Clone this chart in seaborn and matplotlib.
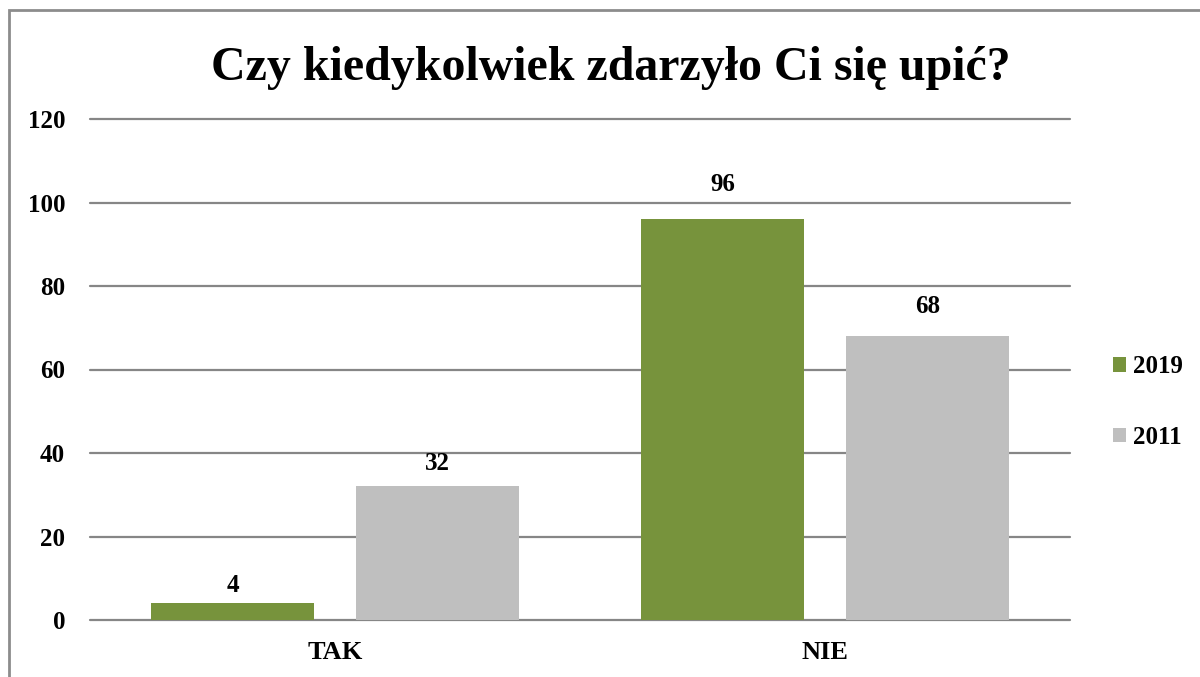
import matplotlib
matplotlib.use("Agg")
import matplotlib.pyplot as plt
import seaborn as sns
import pandas as pd
from matplotlib.patches import Rectangle

categories = ["TAK", "NIE"]
years = ["2019", "2011"]
values_2019 = [4, 96]
values_2011 = [32, 68]
yticks = [0, 20, 40, 60, 80, 100, 120]
title = "Czy kiedykolwiek zdarzyło Ci się upić?"

df = pd.DataFrame({
    "cat": categories * 2,
    "year": [years[0]] * 2 + [years[1]] * 2,
    "val": values_2019 + values_2011,
})

sns.set_theme(style="white")
plt.rcParams['font.family'] = ['Liberation Serif', 'DejaVu Serif']
plt.rcParams['font.weight'] = 'bold'
for k in ["text.color", "axes.labelcolor", "xtick.color", "ytick.color"]:
    plt.rcParams[k] = "black"

fig = plt.figure(figsize=(12, 6.77), dpi=100)
ax = fig.add_axes([90/1200, 1-620/677, 980/1200, 501/677])
palette = {"2019": "#77933C", "2011": "#BFBFBF"}
sns.barplot(data=df, x="cat", y="val", hue="year", order=categories,
            hue_order=years, palette=palette, width=0.837, gap=0.204,
            saturation=1, ax=ax, legend=True, zorder=3, linewidth=0)

ax.set_xlim(-0.5, 1.5)
ax.set_ylim(0, 120)
ax.set_yticks(yticks)
ax.set_yticklabels([str(t) for t in yticks], fontsize=18, fontweight='bold')
ax.set_xticklabels(categories, fontsize=19, fontweight='bold')
ax.tick_params(axis='y', length=0, pad=18)
ax.tick_params(axis='x', length=0, pad=15)
ax.set_xlabel("")
ax.set_ylabel("")
ax.yaxis.grid(True, color="#868686", linewidth=1.6, zorder=0)
ax.set_axisbelow(True)
for gl in ax.get_ygridlines():
    gl.set_clip_on(False)
for s in ax.spines.values():
    s.set_visible(False)

for cont in ax.containers:
    for bar in cont:
        h = bar.get_height()
        ax.annotate(f"{h:.0f}", (bar.get_x() + bar.get_width() / 2, h),
                    xytext=(0, 4 + 0.135 * h), textcoords="offset points",
                    ha="center", va="bottom", fontsize=18, fontweight="bold")

leg = ax.legend(loc="center left", bbox_to_anchor=(1.044, 0.435), frameon=False,
                fontsize=18, handlelength=0.5, handleheight=0.5,
                handletextpad=0.3, labelspacing=1.9, borderpad=0,
                borderaxespad=0)
for t in leg.get_texts():
    t.set_fontweight('bold')

fig.text(611/1200, 1-80/677, title, ha="center", va="baseline",
         fontsize=34.5, fontweight="bold")

fig.patches.append(Rectangle((9/1200, -0.05), 1.1, 1-10/677+0.05,
                             transform=fig.transFigure, fill=False,
                             edgecolor="#8c8c8c", linewidth=2, zorder=10))

fig.savefig("out.png", dpi=100)
